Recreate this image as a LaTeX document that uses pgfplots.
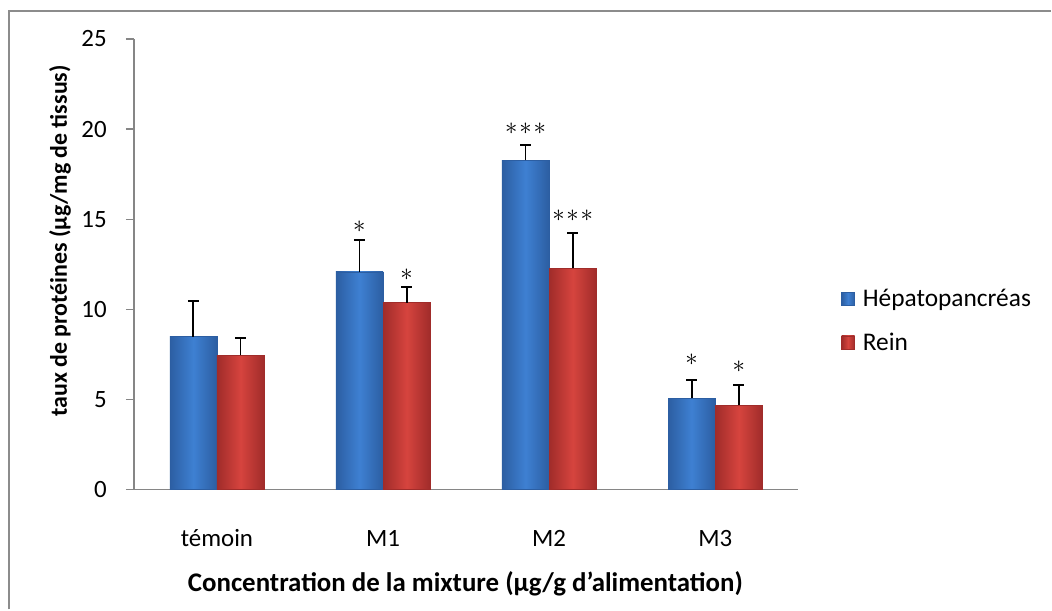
\documentclass[border=0pt]{standalone}
\usepackage{pgfplots}
\pgfplotsset{compat=1.18}
\usepackage{fontspec}
\setmainfont{Carlito}
\definecolor{bmid}{RGB}{62,128,210}
\definecolor{bdark}{RGB}{44,94,162}
\definecolor{rmid}{RGB}{214,68,62}
\definecolor{rdark}{RGB}{160,44,42}
\definecolor{axgray}{RGB}{134,134,134}
\definecolor{framegray}{RGB}{140,140,140}
\pgfplotsset{
  errstyle/.style={error bars/y dir=plus, error bars/y explicit,
    error bars/error bar style={black, line width=1.8bp},
    error bars/error mark options={black, line width=1.8bp, mark size=5.5bp, rotate=90}},
  bluebar/.style={ybar, bar width=0.284, bar shift=0, draw=bdark, line width=0.4bp,
    left color=bdark, right color=bdark, middle color=bmid, errstyle},
  redbar/.style={ybar, bar width=0.284, bar shift=0, draw=rdark, line width=0.4bp,
    left color=rdark, right color=rdark, middle color=rmid, errstyle},
}
\tikzset{sigstar/.style={font=\fontsize{25}{25}\selectfont, inner sep=0pt}}
\newcommand{\sthree}{$\ast$\hspace{1.8bp}$\ast$\hspace{1.8bp}$\ast$}
\begin{document}
\begin{tikzpicture}[x=1bp,y=1bp]
\path (0,0) rectangle (1052,610);
\draw[framegray, line width=2bp] (9,0) -- (9,599) -- (1052,599);
\begin{axis}[
  at={(134bp,120bp)}, anchor=south west,
  width=665bp, height=451bp, scale only axis,
  xmin=-0.5, xmax=3.5, ymin=0, ymax=25,
  axis x line*=bottom, axis y line*=left,
  axis line style={axgray, line width=1.3bp},
  tick style={axgray, line width=1.3bp},
  tick align=outside,
  xtick={0,1,2,3},
  xticklabels={témoin, M1, M2, M3},
  x tick style={draw=none},
  minor xtick={-0.5,0.5,1.5,2.5,3.5},
  minor tick length=8bp,
  major tick length=8bp,
  ytick={0,5,10,15,20,25},
  tick label style={font=\fontsize{25}{30}\selectfont},
  /pgf/number format/assume math mode=true,
  xticklabel style={anchor=base, yshift=-49bp},
  yticklabel style={anchor=east, inner sep=0pt, xshift=-19bp},
  xlabel={\textbf{Concentration de la mixture (µg/g d'alimentation)}},
  ylabel={\textbf{taux de protéines (µg/mg de tissus)}},
  every axis x label/.style={at={(axis description cs:0.499,-0.209)}, anchor=center, font=\fontsize{27}{32}\selectfont},
  every axis y label/.style={at={(axis description cs:-0.1113,0.552)}, anchor=center, rotate=90, font=\fontsize{24}{29}\selectfont},
  legend style={at={(axis description cs:1.0647,0.375)}, anchor=west, draw=none, fill=none,
    font=\fontsize{25.5}{30}\selectfont, row sep=21bp, inner sep=0pt,
    nodes={inner xsep=8bp}},
  legend cell align=left,
  legend image code/.code={\path[#1] (0bp,-6.5bp) rectangle (13bp,6.5bp);},
]
% Hepatopancreas (blue) at category - 0.142, Rein (red) at category + 0.142
\addplot[bluebar] coordinates {(-0.142,8.48) +- (0,2.0)};
\addplot[redbar] coordinates {(0.142,7.45) +- (0,0.95)};
\addplot[bluebar, forget plot] coordinates {(0.858,12.08) +- (0,1.76)};
\addplot[bluebar, forget plot] coordinates {(1.858,18.26) +- (0,0.87)};
\addplot[bluebar, forget plot] coordinates {(2.858,5.07) +- (0,1.02)};
\addplot[redbar, forget plot] coordinates {(1.142,10.37) +- (0,0.88)};
\addplot[redbar, forget plot] coordinates {(2.142,12.27) +- (0,1.97)};
\addplot[redbar, forget plot] coordinates {(3.142,4.67) +- (0,1.14)};
\legend{Hépatopancréas, Rein}
\node[sigstar] at (axis cs:0.858,14.6) {$\ast$};
\node[sigstar] at (axis cs:1.142,11.93) {$\ast$};
\node[sigstar] at (axis cs:1.858,20.03) {\sthree};
\node[sigstar] at (axis cs:2.142,15.2) {\sthree};
\node[sigstar] at (axis cs:2.858,7.19) {$\ast$};
\node[sigstar] at (axis cs:3.142,6.8) {$\ast$};
\end{axis}
\end{tikzpicture}
\end{document}
